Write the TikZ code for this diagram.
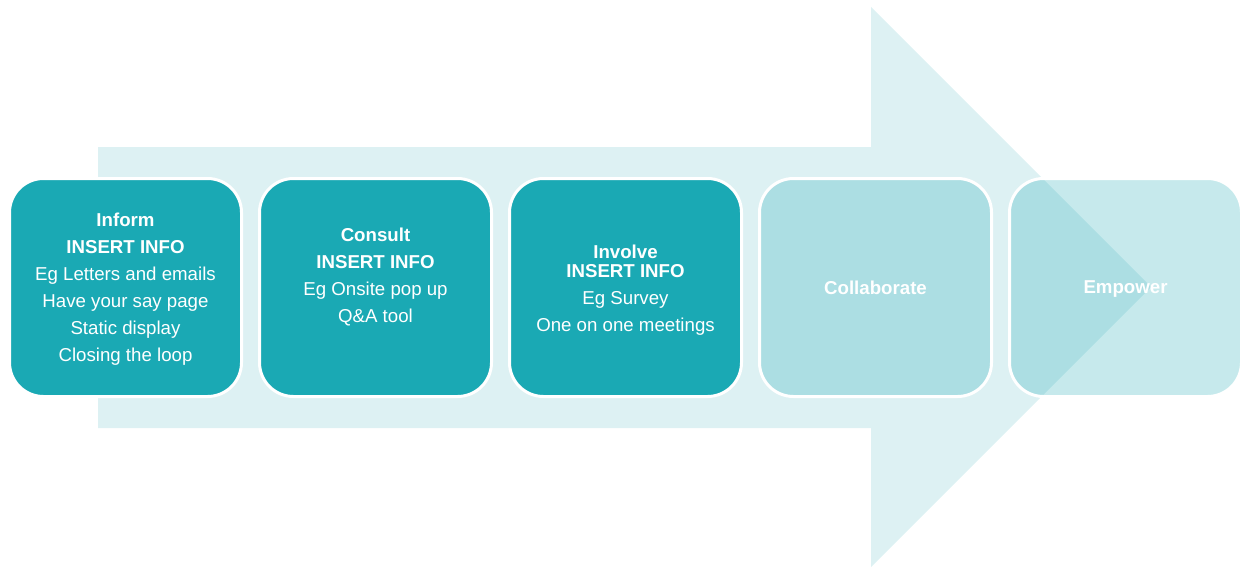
\documentclass[tikz,border=0pt]{standalone}
\usepackage{fontspec}
\setmainfont{Liberation Sans}
\definecolor{teal1}{RGB}{26,169,180}
\definecolor{arrowbg}{RGB}{221,241,243}
\tikzset{
  stage/.style={draw=white, line width=2.25pt, fill=teal1, rounded corners=25.5pt,
    minimum width=174pt, minimum height=163.5pt},
  faded/.style={stage, fill opacity=.25, draw opacity=1},
  stagetext/.style={text=white, align=center, font=\fontsize{14}{20.25}\selectfont}
}
\begin{document}
\begin{tikzpicture}[x=0.75pt, y=-0.75pt]
\useasboundingbox (0,0) rectangle (1242,567);
% big arrow behind the stages
\fill[arrowbg] (98,147) -- (871,147) -- (871,7) -- (1151,287) -- (871,567) -- (871,428) -- (98,428) -- cycle;

% boxes
\node[stage] (inform) at (125.5,287.5) {};
\node[stage] (consult) at (375.5,287.5) {};
\node[stage] (involve) at (625.5,287.5) {};
\node[faded] (collab) at (875.5,287.5) {};
\node[faded] (empower) at (1125.5,287.5) {};

% texts
\node[stagetext] (inform-txt) at (125.5,289.5) {\textbf{Inform}\\\textbf{INSERT INFO}\\Eg Letters and emails\\Have your say page\\Static display\\Closing the loop};
\node[stagetext] (consult-txt) at (375.5,277) {\textbf{Consult}\\\textbf{INSERT INFO}\\Eg Onsite pop up\\Q\&A tool};
\node[stagetext] (involve-txt) at (625.5,290.5) {\textbf{Involve}\\[-6pt]\textbf{INSERT INFO}\\Eg Survey\\One on one meetings};
\node[stagetext, font=\fontsize{14}{20.25}\selectfont\bfseries, text depth=0pt] (collab-txt) at (875.5,287.5) {Collaborate};
\node[stagetext, font=\fontsize{14}{20.25}\selectfont\bfseries, text depth=0pt] (empower-txt) at (1125.5,287.5) {Empower};
\end{tikzpicture}
\end{document}
